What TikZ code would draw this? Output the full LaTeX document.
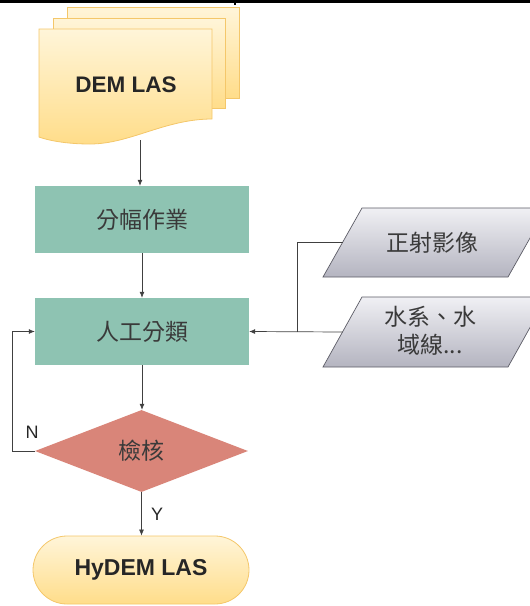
\documentclass[tikz,border=0pt]{standalone}
\usepackage{fontspec}
\setmainfont{Liberation Sans}
\newfontfamily\cjk{Noto Sans CJK TC}
\usetikzlibrary{shapes.geometric,arrows.meta}
\definecolor{teal1}{HTML}{8EC3B2}
\definecolor{rose1}{HTML}{D98579}
\definecolor{ytop}{HTML}{FFF5D9}
\definecolor{ybot}{HTML}{FFDD8A}
\definecolor{yedge}{HTML}{F4C76A}
\definecolor{gtop}{HTML}{F0F0F4}
\definecolor{gbot}{HTML}{B4B4C0}
\definecolor{gedge}{HTML}{5C5C66}
\definecolor{txt}{HTML}{3A3A3A}
\definecolor{linec}{HTML}{404040}
\tikzset{
  procbox/.style={rectangle, fill=teal1, draw=none, minimum width=214pt, minimum height=67pt, inner sep=0pt, font=\cjk\fontsize{23}{27}\selectfont, text=txt},
  checkbox/.style={diamond, fill=rose1, draw=none, minimum width=213pt, minimum height=82pt, inner sep=0pt, font=\cjk\fontsize{23}{27}\selectfont, text=txt},
  datashape/.style={top color=gtop, bottom color=gbot, draw=gedge, line width=0.7pt},
  datatext/.style={inner sep=0pt, font=\cjk\fontsize{23}{28}\selectfont, text=txt, align=center},
  termbox/.style={rectangle, rounded corners=34pt, top color=ytop, bottom color=ybot, draw=yedge, line width=0.8pt, minimum width=216pt, minimum height=68pt, inner sep=0pt, font=\bfseries\fontsize{23}{27}\selectfont, text=black!85},
  docsheet/.style={top color=ytop, bottom color=ybot, draw=yedge, line width=0.8pt},
  arr/.style={draw=linec, line width=0.7pt, -{Latex[length=6pt,width=5pt]}},
  conn/.style={draw=linec, line width=0.7pt},
  lbl/.style={font=\fontsize{18}{20}\selectfont, text=black!85},
}
\begin{document}
\begin{tikzpicture}[x=1pt,y=-1pt]
\useasboundingbox (0,0) rectangle (530,606);
% top border
\draw[line width=2.6pt] (0,1.3) -- (530,1.3);
\draw[line width=1.5pt] (235,0) -- (235,5);
% multi-document
\path[docsheet] (67,7) rectangle (239,98);
\path[docsheet] (53,18) rectangle (225,108);
\path[docsheet] (39,29) -- (212,29) -- (212,119)
  .. controls (165,119) and (130,144) .. (90,144)
  .. controls (65,144) and (47,140) .. (39,137) -- cycle;
\node[font=\bfseries\fontsize{22.5}{26}\selectfont, text=black!85] (dem) at (126,85) {DEM LAS};
\coordinate (demb) at (140,140);
% process boxes
\node[procbox] (split) at (142,219.5) {分幅作業};
\node[procbox] (cls) at (142,331.5) {人工分類};
\node[checkbox] (chk) at (141.5,451) {檢核};
\node[termbox] (out) at (141,570) {HyDEM LAS};
% data (parallelograms, right side clipped by page edge)
\path[datashape] (362,208) -- (547,208) -- (508,277) -- (323,277) -- cycle;
\path[datashape] (362,297) -- (547,297) -- (508,367) -- (323,367) -- cycle;
\node[datatext] (ortho) at (432,242.5) {正射影像};
\node[datatext] (water) at (430,331) {水系、水\\域線...};
\coordinate (orthow) at (342.5,242.5);
\coordinate (waterw) at (342.5,332);
\coordinate (j) at (297,332);
% connectors
\draw[arr] (demb) -- (demb |- split.north);
\draw[arr] (split) -- (cls);
\draw[arr] (cls) -- (cls.south |- chk.north);
\draw[arr] (chk.south) -- (chk.south |- out.north) node[lbl, midway, right=6pt] {Y};
\draw[arr] (chk.west) -- ++(-22,0) |- (cls.west);
\node[lbl] (nlab) at (32,432) {N};
\draw[conn] (orthow) -| (j);
\draw[arr] (waterw) -- (cls.east);
\end{tikzpicture}
\end{document}
